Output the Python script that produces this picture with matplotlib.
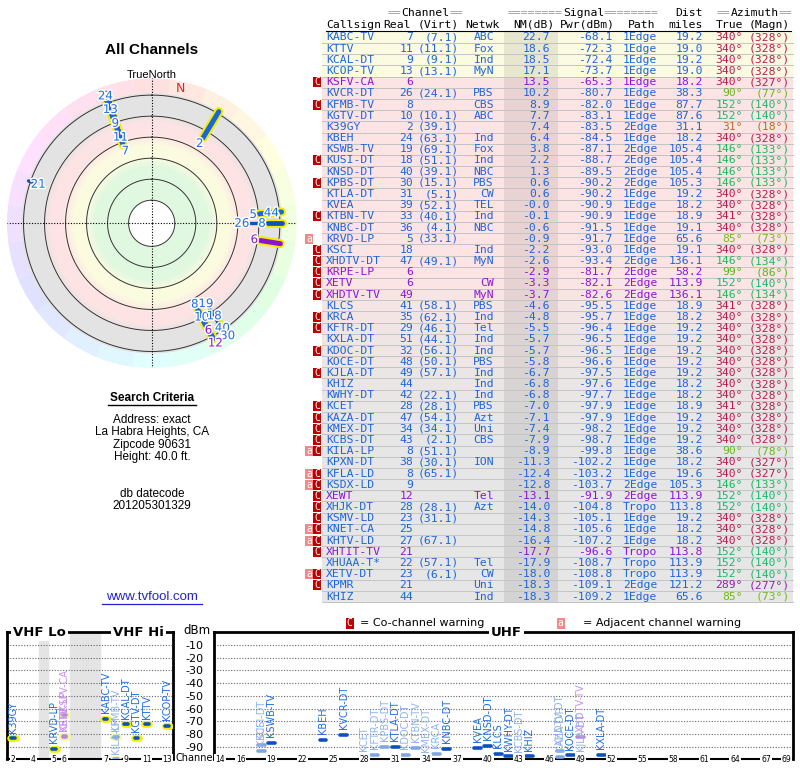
import numpy as np
import matplotlib.pyplot as plt
import matplotlib.patheffects as pe
from matplotlib.colors import LinearSegmentedColormap, hsv_to_rgb, to_rgb
from matplotlib.patches import Rectangle

plt.rcParams['axes.unicode_minus'] = False

# ---- station table (sorted by noise margin, as in the report) ----
callsign = ['KABC-TV', 'KTTV', 'KCAL-DT', 'KCOP-TV', 'KSFV-CA', 'KVCR-DT', 'KFMB-TV', 'KGTV-DT',
            'K39GY', 'KBEH', 'KSWB-TV', 'KUSI-DT', 'KNSD-DT', 'KPBS-DT', 'KTLA-DT', 'KVEA',
            'KTBN-TV', 'KNBC-DT', 'KRVD-LP', 'KSCI', 'XHDTV-DT', 'KRPE-LP', 'XETV', 'XHDTV-TV',
            'KLCS', 'KRCA', 'KFTR-DT', 'KXLA-DT', 'KDOC-DT', 'KOCE-DT', 'KJLA-DT', 'KHIZ',
            'KWHY-DT', 'KCET', 'KAZA-DT', 'KMEX-DT', 'KCBS-DT', 'KILA-LP', 'KPXN-DT', 'KFLA-LD',
            'KSDX-LD', 'XEWT', 'XHJK-DT', 'KSMV-LD', 'KNET-CA', 'KHTV-LD', 'XHTIT-TV', 'XHUAA-T*',
            'XETV-DT', 'KPMR', 'KHIZ']
real_ch = [7, 11, 9, 13, 6, 26, 8, 10, 2, 24, 19, 18, 40, 30, 31, 39,
           33, 36, 5, 18, 47, 6, 6, 49,
           41, 35, 29, 51, 32, 48, 49, 44,
           42, 28, 47, 34, 43, 8, 38, 8,
           9, 12, 28, 23, 25, 27, 21, 22,
           23, 21, 44]
virt_ch = ['7.1', '11.1', '9.1', '13.1', '', '24.1', '', '10.1', '39.1', '63.1', '69.1', '51.1',
           '39.1', '15.1', '5.1', '52.1',
           '40.1', '4.1', '33.1', '', '49.1', '', '', '',
           '58.1', '62.1', '46.1', '44.1', '56.1', '50.1', '57.1', '',
           '22.1', '28.1', '54.1', '34.1', '2.1', '51.1', '30.1', '65.1',
           '', '', '28.1', '31.1', '', '67.1', '', '57.1',
           '6.1', '', '']
network = ['ABC', 'Fox', 'Ind', 'MyN', '', 'PBS', 'CBS', 'ABC', '', 'Ind', 'Fox', 'Ind', 'NBC', 'PBS',
           'CW', 'TEL',
           'Ind', 'NBC', '', 'Ind', 'MyN', '', 'CW', 'MyN',
           'PBS', 'Ind', 'Tel', 'Ind', 'Ind', 'PBS', 'Ind', 'Ind',
           'Ind', 'PBS', 'Azt', 'Uni', 'CBS', '', 'ION', '',
           '', 'Tel', 'Azt', '', '', '', '', 'Tel',
           'CW', 'Uni', 'Ind']
nm_db = [22.7, 18.6, 18.5, 17.1, 13.5, 10.2, 8.9, 7.7, 7.4, 6.4, 3.8, 2.2, 1.3, 0.6, 0.6, -0.0,
         -0.1, -0.6, -0.9, -2.2, -2.6, -2.9, -3.3, -3.7,
         -4.6, -4.8, -5.5, -5.7, -5.7, -5.8, -6.7, -6.8,
         -6.8, -7.0, -7.1, -7.4, -7.9, -8.9, -11.3, -12.4,
         -12.8, -13.1, -14.0, -14.3, -14.8, -16.4, -17.7, -17.9,
         -18.0, -18.3, -18.3]
pwr_dbm = [-68.1, -72.3, -72.4, -73.7, -65.3, -80.7, -82.0, -83.1, -83.5, -84.5, -87.1, -88.7,
           -89.5, -90.2, -90.2, -90.9,
           -90.9, -91.5, -91.7, -93.0, -93.4, -81.7, -82.1, -82.6,
           -95.5, -95.7, -96.4, -96.5, -96.5, -96.6, -97.5, -97.6,
           -97.7, -97.9, -97.9, -98.2, -98.7, -99.8, -102.2, -103.2,
           -103.7, -91.9, -104.8, -105.1, -105.6, -107.2, -96.6, -108.7,
           -108.8, -109.1, -109.2]
path = ['1Edge', '1Edge', '1Edge', '1Edge', '1Edge', '1Edge', '1Edge', '1Edge', '2Edge', '1Edge',
        '2Edge', '2Edge', '2Edge', '2Edge', '1Edge', '1Edge',
        '1Edge', '1Edge', '1Edge', '1Edge', '2Edge', '2Edge', '2Edge', '2Edge',
        '1Edge', '1Edge', '1Edge', '1Edge', '1Edge', '1Edge', '1Edge', '1Edge',
        '1Edge', '1Edge', '1Edge', '1Edge', '1Edge', '1Edge', '1Edge', '1Edge',
        '2Edge', '2Edge', 'Tropo', '1Edge', '1Edge', '1Edge', 'Tropo', 'Tropo',
        'Tropo', '2Edge', '1Edge']
dist_mi = [19.2, 19.0, 19.2, 19.0, 18.2, 38.3, 87.7, 87.6, 31.1, 18.2, 105.4, 105.4, 105.4, 105.3,
           19.2, 18.2,
           18.9, 19.1, 65.6, 19.1, 136.1, 58.2, 113.9, 136.1,
           18.9, 18.2, 19.2, 19.2, 19.2, 19.2, 19.2, 18.2,
           18.2, 18.9, 19.2, 19.2, 19.2, 38.6, 18.2, 19.6,
           105.3, 113.9, 113.8, 19.2, 18.2, 18.2, 113.8, 113.9,
           113.9, 121.2, 65.6]
az_true = [340, 340, 340, 340, 340, 90, 152, 152, 31, 340, 146, 146, 146, 146, 340, 340,
           341, 340, 85, 340, 146, 99, 152, 146,
           341, 340, 340, 340, 340, 340, 340, 340,
           340, 341, 340, 340, 340, 90, 340, 340,
           146, 152, 152, 340, 340, 340, 152, 152,
           152, 289, 85]
az_magn = [328, 328, 328, 328, 327, 77, 140, 140, 18, 328, 133, 133, 133, 133, 328, 328,
           328, 328, 73, 328, 134, 86, 140, 134,
           328, 328, 328, 328, 328, 328, 328, 328,
           328, 328, 328, 328, 328, 78, 327, 327,
           133, 140, 140, 328, 328, 328, 140, 140,
           140, 277, 73]
warn = ['', '', '', '', 'c', '', 'c', '', '', '', '', 'c', '', 'c', '', '',
        'c', '', 'a', 'c', 'c', 'c', 'c', 'c',
        '', 'c', 'c', '', 'c', '', 'c', '',
        '', 'c', 'c', 'c', 'c', 'ac', '', 'ac',
        'ac', 'c', 'c', 'c', 'ac', 'ac', 'c', '',
        'ac', 'c', '']
analog = [0, 0, 0, 0, 1, 0, 0, 0, 0, 0, 0, 0, 0, 0, 0, 0,
          0, 0, 0, 0, 0, 1, 1, 1,
          0, 0, 0, 0, 0, 0, 0, 0,
          0, 0, 0, 0, 0, 0, 0, 0,
          0, 1, 0, 0, 0, 0, 1, 0,
          0, 0, 0]
polar_label = [1, 1, 1, 1, 1, 1, 1, 1, 1, 1, 1, 1, 1, 1, 0, 0,
               0, 0, 1, 0, 0, 1, 1, 0,
               0, 0, 0, 0, 0, 0, 0, 0,
               0, 0, 0, 0, 0, 1, 0, 0,
               0, 1, 0, 0, 0, 0, 0, 0,
               0, 1, 1]

search_lines = ['Address: exact', 'La Habra Heights, CA', 'Zipcode 90631', 'Height: 40.0 ft.']
date_lines = ['db datecode', '201205301329']
vhf_ticks = [2, 4, 5, 6, 7, 9, 11, 13]
uhf_ticks = [14, 16, 19, 22, 25, 28, 31, 34, 37, 40, 43, 46, 49, 52, 55, 58, 61, 64, 67, 69]

n = len(callsign)
BLUE = '#1e64dc'
PURPLE = '#8c14dc'
MONO = 'DejaVu Sans Mono'
SANS = 'Liberation Sans'


def px_rect(left, top, right, bottom):
    return [left / 800, 1 - bottom / 768, (right - left) / 800, (bottom - top) / 768]


def az_color(az, v=0.72):
    return hsv_to_rgb((az / 360.0, 0.85, v))


def row_color(nm):
    if nm >= 15:
        return '#fbfbe2'
    t = np.clip((-3.0 - nm) / 4.5, 0, 1)
    return tuple((1 - t) * np.array(to_rgb('#fde4e4')) + t * np.array(to_rgb('#e6e6e6')))


def vhf_pos(ch):
    if ch <= 4:
        return ch - 2
    if ch <= 6:
        return ch - 1
    return ch + 2


fig = plt.figure(figsize=(8, 7.68), dpi=100)

# ---- overlay in pixel coordinates: table and captions ----
ov = fig.add_axes([0, 0, 1, 1])
ov.set_xlim(0, 800)
ov.set_ylim(768, 0)
ov.axis('off')

fs = 8.2
cw = 0.602 * fs * 100 / 72  # monospace advance in pixels
row_y0, row_h = 37.5, 11.18
for i in range(n):
    y = row_y0 + i * row_h
    ov.add_patch(Rectangle((322, y - row_h / 2), 471, row_h, fc=row_color(nm_db[i]), ec='none'))
    ov.plot([322, 793], [y + row_h / 2] * 2, color='#c4c4c4', lw=0.7)
ov.add_patch(Rectangle((504, row_y0 - row_h / 2), 54, n * row_h, fc='black', ec='none', alpha=0.08))

for i in range(n):
    y = row_y0 + i * row_h
    c = PURPLE if analog[i] else BLUE
    azc = az_color(az_true[i])
    cells = [(326, callsign[i], 'left', c),
             (413, str(real_ch[i]), 'right', c),
             (459, '(%s)' % virt_ch[i] if virt_ch[i] else '', 'right', c),
             (494, network[i], 'right', c),
             (550, '%.1f' % nm_db[i], 'right', c),
             (612, '%.1f' % pwr_dbm[i], 'right', c),
             (623, path[i], 'left', c),
             (703, '%.1f' % dist_mi[i], 'right', c),
             (743, '%d°' % az_true[i], 'right', azc),
             (790, '(%d°)' % az_magn[i], 'right', azc)]
    for x, s, ha, col in cells:
        if s:
            ov.text(x, y, s, ha=ha, va='center', fontsize=fs, family=MONO, color=col)
    if 'c' in warn[i]:
        ov.add_patch(Rectangle((313, y - 5), 8, 10, fc='#c00000', ec='none'))
        ov.text(317, y, 'C', color='white', ha='center', va='center', fontsize=7, family=MONO)
    if 'a' in warn[i]:
        ov.add_patch(Rectangle((305, y - 5), 8, 10, fc='#f08a8a', ec='none'))
        ov.text(309, y, 'a', color='white', ha='center', va='center', fontsize=7, family=MONO)

# header rows: grey "=" runs around a black group title
for x, word, k in [(388, 'Channel', 2), (508, 'Signal', 8), (717, 'Azimuth', 2)]:
    ov.text(x, 13, '=' * k, ha='left', va='center', fontsize=fs, family=MONO, color='#9a9a9a')
    ov.text(x + k * cw, 13, word, ha='left', va='center', fontsize=fs, family=MONO, color='black')
    ov.text(x + (k + len(word)) * cw, 13, '=' * k, ha='left', va='center', fontsize=fs,
            family=MONO, color='#9a9a9a')
ov.text(703, 13, 'Dist', ha='right', va='center', fontsize=fs, family=MONO)
for x, s, ha in [(326, 'Callsign', 'left'), (411, 'Real', 'right'), (459, '(Virt)', 'right'),
                 (500, 'Netwk', 'right'), (555, 'NM(dB)', 'right'), (615, 'Pwr(dBm)', 'right'),
                 (655, 'Path', 'right'), (703, 'miles', 'right'), (743, 'True', 'right'),
                 (790, '(Magn)', 'right')]:
    ov.text(x, 24.5, s, ha=ha, va='center', fontsize=fs, family=MONO)
ov.plot([326, 791], [30.5, 30.5], color='black', lw=0.8)

# left captions
ov.text(152, 50, 'All Channels', ha='center', va='center', fontsize=11, fontweight='bold', family=SANS)
ov.text(152, 74.5, 'TrueNorth', ha='center', va='center', fontsize=8, family=SANS)
ov.text(152, 398, 'Search Criteria', ha='center', va='center', fontsize=8.5, fontweight='bold', family=SANS)
ov.plot([108, 196], [405, 405], color='black', lw=1)
for k, s in enumerate(search_lines):
    ov.text(152, 420 + k * 12.3, s, ha='center', va='center', fontsize=8.5, family=SANS)
for k, s in enumerate(date_lines):
    ov.text(152, 494 + k * 12.3, s, ha='center', va='center', fontsize=8.5, family=SANS)
ov.text(152, 597, 'www.tvfool.com', ha='center', va='center', fontsize=9.5, family=SANS, color='#2222dd')
ov.plot([102, 202], [604, 604], color='#2222dd', lw=0.9)

# warning legend
ov.add_patch(Rectangle((346, 618), 7.5, 11, fc='#c00000', ec='none'))
ov.text(349.8, 623.5, 'C', color='white', ha='center', va='center', fontsize=7, family=MONO)
ov.text(360, 623.5, '= Co-channel warning', ha='left', va='center', fontsize=8)
ov.add_patch(Rectangle((557, 618), 7.5, 11, fc='#f08a8a', ec='none'))
ov.text(560.8, 623.5, 'a', color='white', ha='center', va='center', fontsize=7, family=MONO)
ov.text(583, 623.5, '= Adjacent channel warning', ha='left', va='center', fontsize=8)

ov.text(175, 758, 'Channel', ha='left', va='center', fontsize=7)
ov.text(183, 631, 'dBm', ha='left', va='center', fontsize=8.5)

# ---- polar "All Channels" plot ----
pax = fig.add_axes(px_rect(6.7, 78.3, 296.7, 368.3), projection='polar')
pax.set_theta_zero_location('N')
pax.set_theta_direction(-1)
pax.set_ylim(0, 138)
pax.set_xticks([])
pax.set_yticks([])
pax.grid(False)
pax.spines['polar'].set_visible(False)
pax.patch.set_alpha(0)

R_OUT = 124
stops = [(0, 'white'), (21, 'white'), (22.5, '#e0f8e0'), (54, '#e0f8e0'), (64, '#fbfbe0'),
         (74, '#fbfbe0'), (85, '#fde3e3'), (96, '#fde3e3'), (105, '#e3e3e3'), (R_OUT, '#e3e3e3')]
band_cmap = LinearSegmentedColormap.from_list('bands', [(r / R_OUT, c) for r, c in stops])
r_edges = np.linspace(0, R_OUT, 249)
th_edges = np.linspace(0, 2 * np.pi, 181)
rc = 0.5 * (r_edges[1:] + r_edges[:-1])
pax.pcolormesh(th_edges, r_edges, np.tile(rc[:, None], (1, 180)), cmap=band_cmap,
               vmin=0, vmax=R_OUT, shading='flat', antialiased=False, zorder=0)
wheel = np.arange(0, 360, 15)
pax.bar(np.radians(wheel), 14, width=np.radians(15), bottom=R_OUT,
        color=[hsv_to_rgb((a / 360, 0.12, 1.0)) for a in wheel], edgecolor='none', zorder=0)

th = np.linspace(0, 2 * np.pi, 361)
for rr in [22, 42, 62, 82, 102, 122]:
    pax.plot(th, np.full_like(th, rr), color='#333333', lw=0.7, zorder=1)
for t in [0, np.pi / 2, np.pi, 3 * np.pi / 2]:
    pax.plot([t, t], [0, 138], color='black', lw=0.8, ls=(0, (1, 1.5)), zorder=1)

order = list(reversed(range(n)))
for i in order:
    if real_ch[i] <= 13:
        t = np.radians(az_true[i])
        pax.plot([t, t], [102 - nm_db[i], R_OUT], color='#f2ee00', lw=6.5,
                 solid_capstyle='round', zorder=3)
for i in order:
    t = np.radians(az_true[i])
    col = '#8a14d0' if analog[i] else ('#1a66d9' if real_ch[i] <= 13 else '#1350b8')
    lw = 3.6 if real_ch[i] <= 13 else 2.4
    pax.plot([t, t], [102 - nm_db[i], R_OUT], color=col, lw=lw, solid_capstyle='round', zorder=4)

last_r = {}
halo = [pe.withStroke(linewidth=2.2, foreground='white')]
for i in range(n):
    if not polar_label[i]:
        continue
    r = 102 - nm_db[i] - 6
    if az_true[i] in last_r:
        r = max(r, last_r[az_true[i]] + 14)
    last_r[az_true[i]] = r
    pax.text(np.radians(az_true[i]), min(r, 129), str(real_ch[i]), ha='center', va='center',
             fontsize=8.5, color=PURPLE if analog[i] else '#1e6ee0', path_effects=halo, zorder=5)
pax.text(np.radians(az_true[0] - az_magn[0]), 131, 'N', color='#e02828', fontsize=9,
         ha='center', va='center', zorder=5)

# ---- bottom signal strength panels ----
ax_v = fig.add_axes(px_rect(7.3, 632.3, 173, 759.4))
ax_u = fig.add_axes(px_rect(214, 632.3, 792.7, 759.4))
ax_v.set_xlim(-0.55, 15.55)
ax_u.set_xlim(13.42, 69.58)
for ax in (ax_v, ax_u):
    ax.set_ylim(-100, 0)
    ax.set_yticks(np.arange(-90, 0, 10))
    ax.grid(axis='y', color='#666666', ls=(0, (1, 1.5)), lw=0.8)
    ax.set_axisbelow(True)
    ax.set_xticks([])
    ax.tick_params(axis='y', length=0)
    for s in ['left', 'right', 'top']:
        ax.spines[s].set_linewidth(2)
    ax.spines['bottom'].set_linewidth(1.5)
ax_u.tick_params(labelleft=False)
ax_v.yaxis.tick_right()
ax_v.tick_params(axis='y', labelright=True, labelleft=False, pad=9, labelsize=8)
ax_v.axvspan(2.55, 3.45, color='#e4e4e4', zorder=0)
ax_v.axvspan(5.55, 8.45, color='#e4e4e4', zorder=0)

for ch in vhf_ticks:
    ax_v.text(vhf_pos(ch), -100, str(ch), fontsize=5.5, ha='center', va='center', clip_on=False,
              bbox=dict(fc='white', ec='none', pad=0.6), zorder=6)
for ch in uhf_ticks:
    ax_u.text(ch, -100, str(ch), fontsize=5.5, ha='center', va='center', clip_on=False,
              bbox=dict(fc='white', ec='none', pad=0.6), zorder=6)
title_box = dict(fc='white', ec='none', pad=1.5)
ax_v.text(2.55, 0, 'VHF Lo', ha='center', va='center', fontsize=9.5, fontweight='bold',
          bbox=title_box, clip_on=False, zorder=6)
ax_v.text(12.2, 0, 'VHF Hi', ha='center', va='center', fontsize=9.5, fontweight='bold',
          bbox=title_box, clip_on=False, zorder=6)
ax_u.text(41.8, 0, 'UHF', ha='center', va='center', fontsize=9.5, fontweight='bold',
          bbox=title_box, clip_on=False, zorder=6)

shown = [i for i in range(n) if nm_db[i] > -10]
shown.sort(key=lambda i: 'c' not in warn[i])  # faded entries first, strong ones on top
for i in shown:
    dim = 'c' in warn[i]
    if analog[i]:
        barc, labc = ('#b888e0', '#c890ee') if dim else ('#8020c8', '#a030e0')
    else:
        barc, labc = ('#7ea6e0', '#8fb3ec') if dim else ('#0b50c0', '#1e6ee0')
    if real_ch[i] <= 13:
        ax, x = ax_v, vhf_pos(real_ch[i])
        ax.hlines(pwr_dbm[i], x - 0.25, x + 0.25, colors='#f6f6a0' if dim else '#f0f000',
                  linewidths=4.8, capstyle='round', zorder=3)
        ax.hlines(pwr_dbm[i], x - 0.18, x + 0.18, colors=barc, linewidths=2.6,
                  capstyle='round', zorder=4)
    else:
        ax, x = ax_u, real_ch[i]
        ax.hlines(pwr_dbm[i], x - 0.33, x + 0.33, colors=barc, linewidths=2.6,
                  capstyle='round', zorder=4)
    ax.annotate(callsign[i], (x, pwr_dbm[i]), xytext=(0, 4), textcoords='offset points',
                rotation=90, ha='center', va='bottom', fontsize=7, color=labc, zorder=5)

fig.savefig('out.png', dpi=100)
